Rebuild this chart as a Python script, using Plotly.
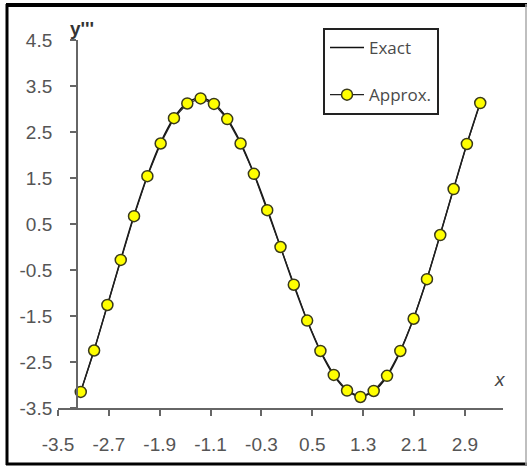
import plotly.graph_objects as go

# Data
x_vals = [-3.142, -2.932, -2.723, -2.513, -2.304, -2.094, -1.885, -1.676, -1.466, -1.257,
          -1.047, -0.838, -0.628, -0.419, -0.209, 0.0, 0.209, 0.419, 0.628, 0.838,
          1.047, 1.257, 1.466, 1.676, 1.885, 2.094, 2.304, 2.513, 2.723, 2.932, 3.142]
exact_vals = [-3.14, -2.24, -1.27, -0.27, 0.69, 1.55, 2.27, 2.81, 3.14, 3.24,
              3.12, 2.79, 2.27, 1.60, 0.83, 0.0, -0.83, -1.60, -2.27, -2.79,
              -3.12, -3.24, -3.14, -2.81, -2.27, -1.55, -0.69, 0.27, 1.27, 2.24, 3.14]
approx_vals = [-3.15, -2.25, -1.26, -0.28, 0.67, 1.54, 2.25, 2.80, 3.12, 3.23,
               3.11, 2.78, 2.25, 1.59, 0.80, 0.0, -0.82, -1.60, -2.26, -2.78,
               -3.12, -3.26, -3.13, -2.80, -2.26, -1.56, -0.70, 0.26, 1.26, 2.24, 3.13]

x_ticks = [-3.5, -2.7, -1.9, -1.1, -0.3, 0.5, 1.3, 2.1, 2.9]
x_tick_labels = ["-3.5", "-2.7", "-1.9", "-1.1", "-0.3", "0.5", "1.3", "2.1", "2.9"]
y_ticks = [-3.5, -2.5, -1.5, -0.5, 0.5, 1.5, 2.5, 3.5, 4.5]
y_tick_labels = ["-3.5", "-2.5", "-1.5", "-0.5", "0.5", "1.5", "2.5", "3.5", "4.5"]

W, H = 529, 467
L, R, T, B = 58, 26, 40, 59
pw, ph = W - L - R, H - T - B

def px_x(p):
    return (p - L) / pw

def px_y(p):
    return (H - B - p) / ph

fig = go.Figure()
fig.add_trace(go.Scatter(
    x=x_vals, y=exact_vals, mode="lines", name="Exact",
    line=dict(color="#111111", width=1.5, shape="spline"),
    legendgroup="a",
))
fig.add_trace(go.Scatter(
    x=x_vals, y=approx_vals, mode="lines+markers", name="Approx.",
    line=dict(color="#222222", width=1.2),
    marker=dict(size=11, color="#ffff00", line=dict(color="#3a3a1a", width=1.5)),
    legendgroup="b",
))

tick_font = dict(family="Liberation Sans, Arial, sans-serif", size=19, color="#555555")

fig.update_layout(
    width=W, height=H,
    margin=dict(l=L, r=R, t=T, b=B),
    paper_bgcolor="white", plot_bgcolor="white",
    showlegend=True,
    legend=dict(
        x=px_x(323), y=px_y(28), xanchor="left", yanchor="top",
        bgcolor="white", bordercolor="#222222", borderwidth=2,
        font=dict(family="Open Sans, sans-serif", size=17, color="#4a4a4a"),
        traceorder="grouped", tracegroupgap=22, itemwidth=34,
    ),
    xaxis=dict(
        range=[-3.5, 3.5], tickvals=x_ticks, ticktext=x_tick_labels,
        showgrid=False, zeroline=False, showline=True, linecolor="#666666", linewidth=2,
        ticks="outside", ticklen=6, tickwidth=1.5, tickcolor="#666666",
        tickfont=tick_font, ticklabelstandoff=12,
    ),
    yaxis=dict(
        range=[-3.5, 4.5], tickvals=y_ticks, ticktext=y_tick_labels,
        anchor="free", position=0.3 / 7.0,
        showgrid=False, zeroline=False, showline=True, linecolor="#666666", linewidth=2,
        ticks="outside", ticklen=6, tickwidth=1.5, tickcolor="#666666",
        tickfont=tick_font, ticklabelstandoff=14,
    ),
    annotations=[
        dict(text="<b>y'''</b>", xref="paper", yref="paper", x=px_x(68), y=px_y(16),
             showarrow=False, font=dict(family="Liberation Sans, Arial, sans-serif", size=19, color="#333333")),
        dict(text="<i>x</i>", xref="paper", yref="paper", x=px_x(508), y=px_y(392),
             showarrow=False, font=dict(family="Liberation Sans, Arial, sans-serif", size=19, color="#444444")),
    ],
    shapes=[
        dict(type="line", xref="paper", yref="paper", x0=px_x(6), x1=px_x(527), y0=px_y(5), y1=px_y(5),
             line=dict(color="#000000", width=4)),
        dict(type="line", xref="paper", yref="paper", x0=px_x(7), x1=px_x(7), y0=px_y(4), y1=px_y(465),
             line=dict(color="#000000", width=3)),
        dict(type="line", xref="paper", yref="paper", x0=px_x(6), x1=px_x(527), y0=px_y(464), y1=px_y(464),
             line=dict(color="#000000", width=3)),
        dict(type="line", xref="paper", yref="paper", x0=px_x(526), x1=px_x(526), y0=px_y(4), y1=px_y(465),
             line=dict(color="#aaaaaa", width=1.5)),
    ],
)

fig.write_html("out.html")
